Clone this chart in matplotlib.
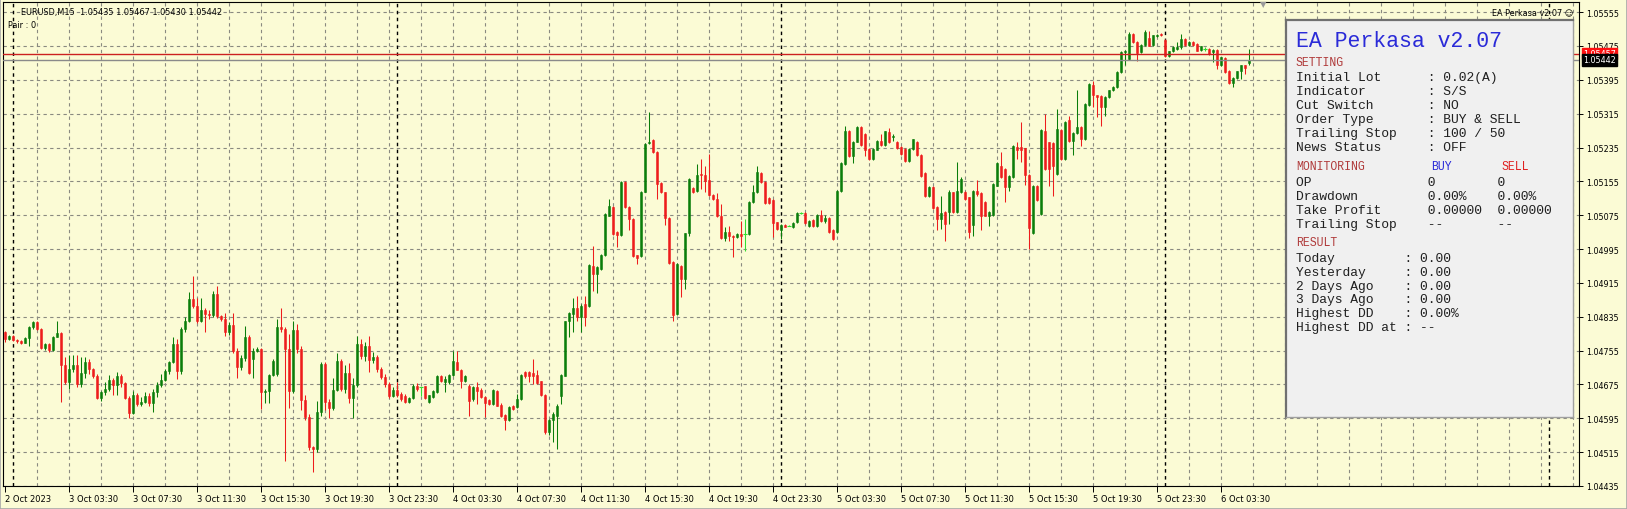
import numpy as np
import matplotlib.pyplot as plt
from matplotlib.patches import Rectangle

W, H = 1627, 510

# EURUSD M15 bars, prices in points (1e-5)
opens = [
    104798, 104782, 104790, 104781, 104777, 104774, 104784, 104810, 104823, 104806,
    104761, 104770, 104756, 104788, 104796, 104720, 104680, 104711, 104721, 104676,
    104703, 104727, 104711, 104694, 104642, 104656, 104664, 104685, 104674, 104696,
    104678, 104644, 104607, 104650, 104629, 104634, 104648, 104631, 104658, 104674,
    104686, 104706, 104727, 104770, 104707, 104806, 104826, 104877, 104860, 104826,
    104851, 104841, 104838, 104889, 104837, 104830, 104798, 104815, 104755, 104717,
    104737, 104786, 104735, 104755, 104759, 104656, 104660, 104697, 104700, 104810,
    104806, 104759, 104660, 104804, 104759, 104639, 104597, 104526, 104522, 104609,
    104723, 104633, 104620, 104663, 104731, 104664, 104703, 104644, 104674, 104770,
    104742, 104767, 104733, 104739, 104711, 104692, 104676, 104648, 104662, 104653,
    104648, 104633, 104643, 104672, 104668, 104671, 104634, 104646, 104657, 104694,
    104680, 104680, 104698, 104728, 104710, 104684, 104672, 104641, 104668, 104663,
    104646, 104638, 104629, 104659, 104627, 104603, 104590, 104625, 104621, 104641,
    104704, 104704, 104702, 104698, 104682, 104650, 104562, 104592, 104600, 104647,
    104696, 104824, 104842, 104856, 104835, 104864, 104860, 104956, 104936, 104948,
    104980, 105074, 105094, 105036, 105028, 105153, 105094, 105066, 104980, 104978,
    105131, 105246, 105252, 105224, 105151, 105129, 105069, 104965, 104842, 104956,
    104924, 105032, 105139, 105133, 105173, 105170, 105159, 105123, 105114, 105074,
    105021, 105036, 105027, 105023, 105031, 105031, 105031, 105106, 105129, 105175,
    105153, 105115, 105112, 105058, 105041, 105052, 105050, 105047, 105058, 105080,
    105080, 105050, 105064, 105049, 105076, 105062, 105068, 105041, 105036, 105133,
    105195, 105275, 105214, 105249, 105283, 105267, 105232, 105208, 105230, 105251,
    105240, 105271, 105259, 105249, 105236, 105232, 105202, 105232, 105249, 105217,
    105175, 105121, 105141, 105094, 105066, 105082, 105082, 105129, 105082, 105129,
    105131, 105117, 105051, 105133, 105128, 105107, 105073, 105076, 105145, 105192,
    105184, 105141, 105165, 105236, 105236, 105233, 105170, 105033, 105145, 105078,
    105275, 105247, 105246, 105172, 105277, 105208, 105299, 105251, 105270, 105283,
    105255, 105336, 105383, 105358, 105356, 105330, 105354, 105370, 105378, 105413,
    105460, 105444, 105504, 105484, 105460, 105478, 105493, 105478, 105499, 105503,
    105490, 105452, 105462, 105468, 105472, 105492, 105478, 105484, 105480, 105466,
    105468, 105468, 105460, 105466, 105430, 105446, 105417, 105388, 105399, 105415,
    105429, 105435,
]
highs = [
    104802, 104792, 104793, 104783, 104780, 104786, 104812, 104826, 104825, 104808,
    104773, 104773, 104790, 104825, 104800, 104740, 104745, 104745, 104744, 104740,
    104740, 104735, 104713, 104700, 104660, 104680, 104698, 104690, 104705, 104700,
    104680, 104648, 104660, 104655, 104645, 104657, 104655, 104665, 104680, 104700,
    104712, 104730, 104786, 104782, 104810, 104835, 104893, 104932, 104880, 104880,
    104855, 104852, 104895, 104907, 104840, 104845, 104822, 104845, 104760, 104745,
    104812, 104792, 104760, 104764, 104761, 104665, 104700, 104736, 104830, 104855,
    104810, 104795, 104825, 104818, 104765, 104650, 104605, 104530, 104635, 104727,
    104727, 104640, 104690, 104750, 104736, 104720, 104725, 104690, 104790, 104783,
    104775, 104790, 104752, 104745, 104716, 104700, 104680, 104670, 104680, 104657,
    104652, 104646, 104676, 104678, 104669, 104672, 104651, 104662, 104698, 104698,
    104696, 104700, 104753, 104753, 104712, 104698, 104676, 104672, 104680, 104666,
    104648, 104641, 104664, 104662, 104630, 104605, 104623, 104627, 104653, 104700,
    104706, 104706, 104735, 104710, 104684, 104652, 104594, 104609, 104628, 104700,
    104826, 104846, 104879, 104885, 104864, 104885, 104960, 105003, 104955, 104983,
    105080, 105114, 105096, 105038, 105155, 105155, 105096, 105068, 104982, 105133,
    105246, 105318, 105254, 105226, 105153, 105131, 105071, 104967, 104962, 104958,
    105034, 105163, 105141, 105196, 105208, 105192, 105220, 105125, 105127, 105102,
    105047, 105049, 105029, 105033, 105061, 105065, 105108, 105147, 105192, 105177,
    105155, 105117, 105114, 105060, 105054, 105054, 105051, 105059, 105082, 105083,
    105082, 105064, 105066, 105078, 105088, 105075, 105070, 105043, 105135, 105201,
    105287, 105277, 105251, 105285, 105285, 105269, 105234, 105234, 105253, 105266,
    105275, 105281, 105266, 105251, 105238, 105234, 105234, 105256, 105251, 105219,
    105177, 105143, 105143, 105096, 105121, 105084, 105135, 105131, 105200, 105166,
    105133, 105119, 105135, 105159, 105130, 105109, 105084, 105151, 105201, 105225,
    105186, 105169, 105240, 105249, 105295, 105235, 105172, 105147, 105147, 105279,
    105314, 105249, 105248, 105326, 105279, 105298, 105310, 105272, 105372, 105285,
    105340, 105387, 105393, 105360, 105358, 105356, 105372, 105380, 105415, 105462,
    105466, 105508, 105506, 105486, 105480, 105512, 105511, 105502, 105504, 105505,
    105492, 105464, 105474, 105485, 105503, 105494, 105486, 105486, 105482, 105476,
    105472, 105470, 105468, 105468, 105450, 105448, 105419, 105401, 105417, 105431,
    105431, 105467,
]
lows = [
    104776, 104780, 104777, 104772, 104770, 104772, 104767, 104806, 104803, 104758,
    104757, 104752, 104754, 104786, 104634, 104675, 104665, 104705, 104670, 104670,
    104690, 104700, 104690, 104640, 104636, 104650, 104660, 104650, 104650, 104670,
    104640, 104596, 104605, 104625, 104625, 104630, 104625, 104610, 104645, 104670,
    104682, 104700, 104725, 104689, 104700, 104800, 104822, 104855, 104820, 104822,
    104800, 104830, 104835, 104833, 104826, 104790, 104793, 104750, 104690, 104710,
    104730, 104700, 104690, 104752, 104618, 104630, 104630, 104694, 104695, 104800,
    104495, 104620, 104655, 104750, 104615, 104590, 104520, 104468, 104515, 104600,
    104615, 104595, 104615, 104660, 104660, 104655, 104630, 104595, 104670, 104735,
    104730, 104705, 104725, 104705, 104688, 104670, 104644, 104645, 104645, 104637,
    104630, 104630, 104640, 104660, 104647, 104640, 104630, 104644, 104655, 104680,
    104657, 104676, 104696, 104708, 104666, 104680, 104601, 104637, 104629, 104643,
    104597, 104626, 104627, 104623, 104598, 104568, 104588, 104615, 104619, 104638,
    104690, 104680, 104676, 104677, 104647, 104558, 104556, 104538, 104523, 104629,
    104694, 104787, 104798, 104824, 104800, 104812, 104858, 104895, 104891, 104946,
    104978, 105072, 105029, 104999, 105026, 105092, 105041, 104976, 104960, 104976,
    105129, 105244, 105222, 105114, 105127, 105051, 104960, 104826, 104840, 104881,
    104901, 105027, 105127, 105131, 105137, 105131, 105121, 105112, 105071, 105019,
    105015, 105013, 104976, 105021, 104999, 104991, 105029, 105104, 105127, 105151,
    105101, 105101, 105023, 105041, 105019, 105046, 105049, 105045, 105056, 105077,
    105054, 105048, 105047, 105047, 105060, 105056, 105034, 105017, 105034, 105131,
    105193, 105212, 105199, 105247, 105238, 105216, 105206, 105206, 105228, 105239,
    105238, 105245, 105250, 105231, 105218, 105200, 105200, 105230, 105215, 105165,
    105119, 105119, 105090, 105041, 105043, 105013, 105054, 105080, 105080, 105127,
    105112, 105021, 105027, 105121, 105041, 105072, 105049, 105074, 105143, 105163,
    105107, 105133, 105163, 105208, 105200, 105147, 104996, 105031, 105108, 105076,
    105182, 105145, 105121, 105170, 105206, 105206, 105249, 105218, 105267, 105239,
    105253, 105334, 105330, 105307, 105287, 105310, 105352, 105368, 105376, 105411,
    105431, 105442, 105483, 105440, 105458, 105476, 105474, 105476, 105496, 105499,
    105450, 105450, 105460, 105466, 105468, 105476, 105476, 105476, 105462, 105464,
    105464, 105454, 105438, 105421, 105428, 105411, 105386, 105377, 105397, 105397,
    105409, 105430,
]
closes = [
    104782, 104790, 104781, 104777, 104774, 104784, 104810, 104823, 104806, 104761,
    104770, 104756, 104788, 104796, 104720, 104680, 104711, 104721, 104676, 104703,
    104727, 104711, 104694, 104642, 104656, 104664, 104685, 104674, 104696, 104678,
    104644, 104607, 104650, 104629, 104634, 104648, 104631, 104658, 104674, 104686,
    104706, 104727, 104770, 104707, 104806, 104826, 104877, 104860, 104826, 104851,
    104841, 104838, 104889, 104837, 104830, 104798, 104815, 104755, 104717, 104737,
    104786, 104703, 104755, 104759, 104656, 104660, 104697, 104730, 104810, 104806,
    104759, 104660, 104804, 104759, 104639, 104597, 104526, 104522, 104609, 104723,
    104633, 104620, 104663, 104731, 104664, 104703, 104644, 104674, 104770, 104742,
    104767, 104733, 104739, 104711, 104692, 104676, 104648, 104662, 104650, 104641,
    104633, 104643, 104672, 104664, 104668, 104642, 104649, 104660, 104696, 104682,
    104688, 104698, 104730, 104710, 104684, 104694, 104637, 104668, 104660, 104646,
    104631, 104629, 104662, 104625, 104600, 104590, 104621, 104617, 104641, 104698,
    104696, 104696, 104696, 104679, 104649, 104562, 104592, 104605, 104625, 104698,
    104824, 104844, 104855, 104835, 104861, 104835, 104958, 104935, 104952, 104981,
    105078, 105096, 105031, 105028, 105153, 105094, 105065, 104978, 104973, 105131,
    105244, 105249, 105224, 105149, 105129, 105068, 104962, 104839, 104960, 104924,
    105032, 105161, 105129, 105170, 105169, 105157, 105123, 105114, 105073, 105021,
    105035, 105025, 105023, 105031, 105025, 105031, 105106, 105129, 105178, 105153,
    105103, 105103, 105057, 105043, 105052, 105048, 105050, 105057, 105080, 105080,
    105057, 105062, 105049, 105076, 105062, 105068, 105036, 105019, 105133, 105199,
    105275, 105214, 105249, 105283, 105240, 105230, 105208, 105232, 105251, 105241,
    105273, 105247, 105262, 105233, 105220, 105202, 105232, 105254, 105217, 105167,
    105121, 105141, 105092, 105066, 105080, 105054, 105131, 105082, 105133, 105161,
    105114, 105035, 105133, 105125, 105074, 105074, 105082, 105149, 105199, 105165,
    105141, 105167, 105238, 105230, 105230, 105169, 105044, 105145, 105110, 105277,
    105184, 105184, 105192, 105279, 105208, 105296, 105251, 105270, 105283, 105255,
    105338, 105385, 105358, 105354, 105330, 105354, 105370, 105378, 105413, 105460,
    105464, 105504, 105485, 105458, 105478, 105509, 105476, 105500, 105501, 105501,
    105452, 105462, 105472, 105472, 105492, 105478, 105484, 105478, 105464, 105474,
    105468, 105456, 105466, 105430, 105448, 105413, 105388, 105399, 105415, 105429,
    105423, 105442,
]

ask_price = 1.05457
bid_price = 1.05442
price_ticks = [1.04435, 1.04515, 1.04595, 1.04675, 1.04755, 1.04835, 1.04915, 1.04995,
               1.05075, 1.05155, 1.05235, 1.05315, 1.05395, 1.05475, 1.05555]
time_labels = ["2 Oct 2023", "3 Oct 03:30", "3 Oct 07:30", "3 Oct 11:30", "3 Oct 15:30",
               "3 Oct 19:30", "3 Oct 23:30", "4 Oct 03:30", "4 Oct 07:30", "4 Oct 11:30",
               "4 Oct 15:30", "4 Oct 19:30", "4 Oct 23:30", "5 Oct 03:30", "5 Oct 07:30",
               "5 Oct 11:30", "5 Oct 15:30", "5 Oct 19:30", "5 Oct 23:30", "6 Oct 03:30"]
label_bars = [16 * k for k in range(len(time_labels))]
day_starts = [2, 98, 194, 290, 386]

settings = [("Initial Lot", "0.02(A)"), ("Indicator", "S/S"), ("Cut Switch", "NO"),
            ("Order Type", "BUY & SELL"), ("Trailing Stop", "100 / 50"), ("News Status", "OFF")]
monitoring = [("OP", "0", "0"), ("Drawdown", "0.00%", "0.00%"),
              ("Take Profit", "0.00000", "0.00000"), ("Trailing Stop", "--", "--")]
results = [("Today", "0.00"), ("Yesterday", "0.00"), ("2 Days Ago", "0.00"),
           ("3 Days Ago", "0.00"), ("Highest DD", "0.00%"), ("Highest DD at", "--")]

o = np.array(opens) / 1e5
h = np.array(highs) / 1e5
l = np.array(lows) / 1e5
c = np.array(closes) / 1e5
idx = np.arange(len(o))

BG = '#fbfbd5'
GREEN = '#0a7d0a'
RED = '#ee1c1c'
LIME = '#33dd33'
GRID = '#8a8a80'


def fpos(x, y):
    # figure pixel (from top-left) -> figure fraction
    return x / W, 1 - y / H


fig = plt.figure(figsize=(W / 100, H / 100), dpi=100, facecolor=BG)
ax = fig.add_axes([3 / W, 23 / H, (1579 - 3) / W, (487 - 3) / H])
ax.set_facecolor(BG)
ax.set_xlim(-0.5, 393.5)
ax.set_ylim(1.04435, 1.05579)

# === grid === #
for xb in range(8, 394, 8):
    ax.axvline(xb, color=GRID, lw=0.8, ls=(0, (3, 3)), zorder=1)
for p in price_ticks:
    ax.axhline(p, color=GRID, lw=0.8, ls=(0, (3, 3)), zorder=1)
for d in day_starts:
    ax.axvline(d, color='black', lw=1.0, ls=(0, (2.5, 2.5)), zorder=1)

# === candles === #
up = c > o
dn = c < o
dj = c == o
ax.vlines(idx[up], l[up], h[up], color=GREEN, lw=0.75, zorder=3)
ax.vlines(idx[dn], l[dn], h[dn], color=RED, lw=0.75, zorder=3)
ax.vlines(idx[dj], l[dj], h[dj], color=LIME, lw=0.75, zorder=3)
ax.bar(idx[up], c[up] - o[up], bottom=o[up], width=0.7, color=GREEN,
       edgecolor=GREEN, lw=0.4, zorder=4)
ax.bar(idx[dn], c[dn] - o[dn], bottom=o[dn], width=0.7, color=RED,
       edgecolor=RED, lw=0.4, zorder=4)
ax.hlines(c[dj], idx[dj] - 0.4, idx[dj] + 0.4, color=LIME, lw=0.8, zorder=4)

# bid / ask lines
ax.axhline(ask_price, color='#cc2020', lw=1.0, zorder=5)
ax.axhline(bid_price, color='#8a8a8a', lw=1.0, zorder=5)

# === axes === #
for s in ax.spines.values():
    s.set_color('black')
    s.set_linewidth(0.8)
ax.yaxis.tick_right()
ax.set_yticks(price_ticks)
ax.set_yticklabels([f"{p:.5f}" for p in price_ticks])
ax.tick_params(axis='y', direction='out', length=3, width=0.7, pad=2, labelsize=5.8)
ax.set_xticks(label_bars)
ax.set_xticklabels(time_labels)
for t in ax.get_xticklabels():
    t.set_horizontalalignment('left')
ax.tick_params(axis='x', direction='out', length=4, width=0.7, pad=2, labelsize=6)

# price boxes on the right
for price, col in [(ask_price, '#ff1010'), (bid_price, 'black')]:
    ax.annotate(f"{price:.5f}", xy=(1.0, price), xycoords=('axes fraction', 'data'),
                xytext=(3, 0), textcoords='offset points', ha='left', va='center',
                fontsize=5.8, color='white', annotation_clip=False,
                bbox=dict(boxstyle='square,pad=0.15', fc=col, ec=col))

# === header texts === #
fig.text(*fpos(21, 13), "EURUSD,M15  1.05435 1.05467 1.05430 1.05442",
         fontsize=5.9, va='center', ha='left')
fig.text(*fpos(8, 26), "Pair : 0", fontsize=5.9, va='center', ha='left')
fig.text(*fpos(1573, 13), "EA Perkasa v2.07 \u263a", fontsize=5.9, va='center', ha='right')
fig.text(*fpos(1263, 5), "\u25bc", fontsize=6, color='#9a9a9a', va='center', ha='center')

# === info panel === #
px0, py0, px1, py1 = 1286, 21, 1573, 418
pan = fig.add_axes([px0 / W, 1 - py1 / H, (px1 - px0) / W, (py1 - py0) / H])
pan.set_xlim(px0, px1)
pan.set_ylim(py1, py0)
pan.set_facecolor('#f0f0f0')
pan.set_xticks([])
pan.set_yticks([])
for s in pan.spines.values():
    s.set_color('#a0a0a0')
    s.set_linewidth(1.0)
pan.spines['left'].set_color('#707070')
pan.spines['left'].set_linewidth(1.6)
pan.spines['top'].set_color('#707070')
pan.spines['top'].set_linewidth(1.6)

MONO = 'Liberation Mono'
x0 = 1296
SEC = '#b03a3a'


def ptext(y, s, size=9.4, color='#202020', x=x0):
    pan.text(x, y, s, family=MONO, fontsize=size, color=color, va='center', ha='left')


ptext(41, "EA Perkasa v2.07", size=15.5, color='#2a2ad8')
ptext(63, "SETTING", size=8.3, color=SEC)
for k, (name, val) in enumerate(settings):
    ptext(78 + 14 * k, f"{name:<17}: {val}")

ptext(167, "MONITORING", size=8.3, color=SEC)
cw = 7.92
ptext(167, "BUY", size=8.3, color='#2a2ad8', x=x0 + 17 * cw)
ptext(167, "SELL", size=8.3, color='#e02020', x=x0 + 26 * cw)
for k, (name, b, s) in enumerate(monitoring):
    ptext(183 + 14 * k, f"{name:<17}{b:<9}{s}")

ptext(243, "RESULT", size=8.3, color=SEC)
for k, (name, val) in enumerate(results):
    ptext(259 + 13.8 * k, f"{name:<14}: {val}")

# thin window frame
fig.patches.append(Rectangle((0, 0), 1, 1, transform=fig.transFigure, fill=False,
                             ec='#a8a8a8', lw=1.2))

fig.savefig('out.png', dpi=100, facecolor=BG)
